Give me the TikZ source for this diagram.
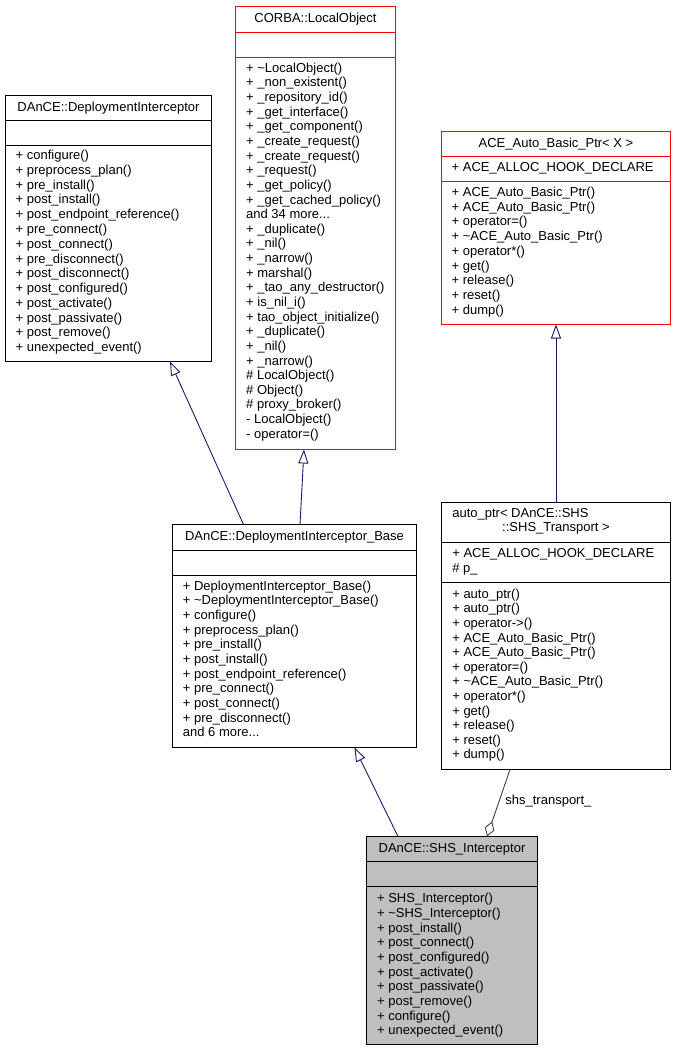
\documentclass[tikz,border=0pt]{standalone}
\usepackage{fontspec}
\setmainfont{Liberation Sans}
\usetikzlibrary{arrows.meta}
\definecolor{edgeblue}{HTML}{191970}
\definecolor{aggcol}{HTML}{404040}
\definecolor{shsfill}{HTML}{BFBFBF}
\definecolor{clsred}{HTML}{FF0000}
\newcommand{\threedots}{.{}.{}.}
\begin{document}
\begin{tikzpicture}[x=1pt,y=-1pt,
  cls/.style={draw, line width=1.2pt, inner sep=0pt, outer sep=0pt, anchor=north west},
  redbox/.style={draw=none, inner sep=0pt, outer sep=0pt, anchor=north west},
  ttl/.style={font=\fontsize{13}{15}\selectfont, inner sep=0pt, text height=9.5pt, text depth=3pt},
  mem/.style={ttl, anchor=west},
  sep/.style={line width=1.2pt},
  redsep/.style={line width=1.2pt, draw=clsred},
  inh/.style={draw=edgeblue, line width=0.9pt, -{Triangle[length=14pt,width=10pt,fill=white,line width=0.9pt]}},
  aggr/.style={draw=aggcol, line width=0.9pt, -{Diamond[length=16pt,width=10pt,fill=white,line width=0.9pt]}},
  lbl/.style={font=\fontsize{13}{15}\selectfont, inner sep=0pt, text height=9.5pt, text depth=3pt}
]
\useasboundingbox (0,0) rectangle (676,1051);

% ---------- DAnCE::DeploymentInterceptor ----------
\node[cls, minimum width=206pt, minimum height=266pt] (di) at (5.5,95.5) {};
\draw[sep] ([yshift=-25pt]di.north west) -- ([yshift=-25pt]di.north east);
\draw[sep] ([yshift=-50pt]di.north west) -- ([yshift=-50pt]di.north east);
\node[ttl] (di-t) at ([yshift=-12.5pt]di.north) {DAnCE::DeploymentInterceptor};
\foreach \t [count=\i from 0] in {{+ configure()},{+ preprocess\_plan()},{+ pre\_install()},{+ post\_install()},{+ post\_endpoint\_reference()},{+ pre\_connect()},{+ post\_connect()},{+ pre\_disconnect()},{+ post\_disconnect()},{+ post\_configured()},{+ post\_activate()},{+ post\_passivate()},{+ post\_remove()},{+ unexpected\_event()}}
  \node[mem] (di-\i) at ([xshift=10pt,yshift={-(61+\i*14.75)*1pt}]di.north west) {\t};

% ---------- CORBA::LocalObject ----------
\node[redbox, minimum width=160pt, minimum height=443pt] (co) at (235.5,6.5) {};
\node[ttl] (co-t) at ([yshift=-13pt]co.north) {CORBA::LocalObject};
\foreach \t [count=\i from 0] in {{+ \textasciitilde LocalObject()},{+ \_non\_existent()},{+ \_repository\_id()},{+ \_get\_interface()},{+ \_get\_component()},{+ \_create\_request()},{+ \_create\_request()},{+ \_request()},{+ \_get\_policy()},{+ \_get\_cached\_policy()},{and 34 more\threedots},{+ \_duplicate()},{+ \_nil()},{+ \_narrow()},{+ marshal()},{+ \_tao\_any\_destructor()},{+ is\_nil\_i()},{+ tao\_object\_initialize()},{+ \_duplicate()},{+ \_nil()},{+ \_narrow()},{\# LocalObject()},{\# Object()},{\# proxy\_broker()},{- LocalObject()},{- operator=()}}
  \node[mem] (co-\i) at ([xshift=10.5pt,yshift={-(62.5+\i*14.64)*1pt}]co.north west) {\t};
\draw[redsep] (co.north west) rectangle (co.south east);
\draw[redsep] ([yshift=-26pt]co.north west) -- ([yshift=-26pt]co.north east);
\draw[redsep] ([yshift=-51pt]co.north west) -- ([yshift=-51pt]co.north east);

% ---------- ACE_Auto_Basic_Ptr< X > ----------
\node[redbox, minimum width=229pt, minimum height=193pt] (ace) at (441.5,131.5) {};
\node[ttl] (ace-t) at ([yshift=-12.5pt]ace.north) {ACE\_Auto\_Basic\_Ptr< X >};
\node[mem] (ace-a) at ([xshift=10pt,yshift=-36.8pt]ace.north west) {+ ACE\_ALLOC\_HOOK\_DECLARE};
\foreach \t [count=\i from 0] in {{+ ACE\_Auto\_Basic\_Ptr()},{+ ACE\_Auto\_Basic\_Ptr()},{+ operator=()},{+ \textasciitilde ACE\_Auto\_Basic\_Ptr()},{+ operator*()},{+ get()},{+ release()},{+ reset()},{+ dump()}}
  \node[mem] (ace-\i) at ([xshift=10pt,yshift={-(61.8+\i*14.7)*1pt}]ace.north west) {\t};
\draw[redsep] (ace.north west) rectangle (ace.south east);
\draw[redsep] ([yshift=-25pt]ace.north west) -- ([yshift=-25pt]ace.north east);
\draw[redsep] ([yshift=-50pt]ace.north west) -- ([yshift=-50pt]ace.north east);

% ---------- DAnCE::DeploymentInterceptor_Base ----------
\node[cls, minimum width=244pt, minimum height=223pt] (base) at (172.5,524.5) {};
\draw[sep] ([yshift=-26pt]base.north west) -- ([yshift=-26pt]base.north east);
\draw[sep] ([yshift=-51pt]base.north west) -- ([yshift=-51pt]base.north east);
\node[ttl] (base-t) at ([yshift=-12.7pt]base.north) {DAnCE::DeploymentInterceptor\_Base};
\foreach \t [count=\i from 0] in {{+ DeploymentInterceptor\_Base()},{+ \textasciitilde DeploymentInterceptor\_Base()},{+ configure()},{+ preprocess\_plan()},{+ pre\_install()},{+ post\_install()},{+ post\_endpoint\_reference()},{+ pre\_connect()},{+ post\_connect()},{+ pre\_disconnect()},{and 6 more\threedots}}
  \node[mem] (base-\i) at ([xshift=10.2pt,yshift={-(62.4+\i*14.66)*1pt}]base.north west) {\t};

% ---------- auto_ptr< DAnCE::SHS::SHS_Transport > ----------
\node[cls, minimum width=229pt, minimum height=267pt] (ap) at (441.5,502.5) {};
\draw[sep] ([yshift=-40pt]ap.north west) -- ([yshift=-40pt]ap.north east);
\draw[sep] ([yshift=-80pt]ap.north west) -- ([yshift=-80pt]ap.north east);
\node[mem] (ap-t1) at ([xshift=10.6pt,yshift=-11.8pt]ap.north west) {auto\_ptr< DAnCE::SHS};
\node[ttl] (ap-t2) at ([yshift=-26.2pt]ap.north) {::SHS\_Transport >};
\node[mem] (ap-a0) at ([xshift=10.6pt,yshift=-51.8pt]ap.north west) {+ ACE\_ALLOC\_HOOK\_DECLARE};
\node[mem] (ap-a1) at ([xshift=10.6pt,yshift=-66.5pt]ap.north west) {\# p\_};
\foreach \t [count=\i from 0] in {{+ auto\_ptr()},{+ auto\_ptr()},{+ operator->()},{+ ACE\_Auto\_Basic\_Ptr()},{+ ACE\_Auto\_Basic\_Ptr()},{+ operator=()},{+ \textasciitilde ACE\_Auto\_Basic\_Ptr()},{+ operator*()},{+ get()},{+ release()},{+ reset()},{+ dump()}}
  \node[mem] (ap-\i) at ([xshift=10.6pt,yshift={-(92.5+\i*14.6)*1pt}]ap.north west) {\t};

% ---------- DAnCE::SHS_Interceptor ----------
\node[cls, fill=shsfill, minimum width=171pt, minimum height=208pt] (shs) at (366.5,836.5) {};
\draw[sep] ([yshift=-25pt]shs.north west) -- ([yshift=-25pt]shs.north east);
\draw[sep] ([yshift=-50pt]shs.north west) -- ([yshift=-50pt]shs.north east);
\node[ttl] (shs-t) at ([yshift=-12.5pt]shs.north) {DAnCE::SHS\_Interceptor};
\foreach \t [count=\i from 0] in {{+ SHS\_Interceptor()},{+ \textasciitilde SHS\_Interceptor()},{+ post\_install()},{+ post\_connect()},{+ post\_configured()},{+ post\_activate()},{+ post\_passivate()},{+ post\_remove()},{+ configure()},{+ unexpected\_event()}}
  \node[mem] (shs-\i) at ([xshift=10.4pt,yshift={-(63+\i*14.67)*1pt}]shs.north west) {\t};

% ---------- connectors ----------
\draw[inh] ([xshift=71pt]base.north west) -- ([xshift=164.5pt]di.south west);
\draw[inh] ([xshift=127.5pt]base.north west) -- ([xshift=68.5pt]co.south west);
\draw[inh] (ap.north) -- (ace.south);
\draw[inh] ([xshift=31.5pt]shs.north west) -- ([xshift=182pt]base.south west);
\draw[aggr] ([xshift=68.5pt]ap.south west) -- node[lbl, pos=0.48, anchor=west, xshift=6pt] (lab) {shs\_transport\_} ([xshift=120.5pt]shs.north west);
\end{tikzpicture}
\end{document}
